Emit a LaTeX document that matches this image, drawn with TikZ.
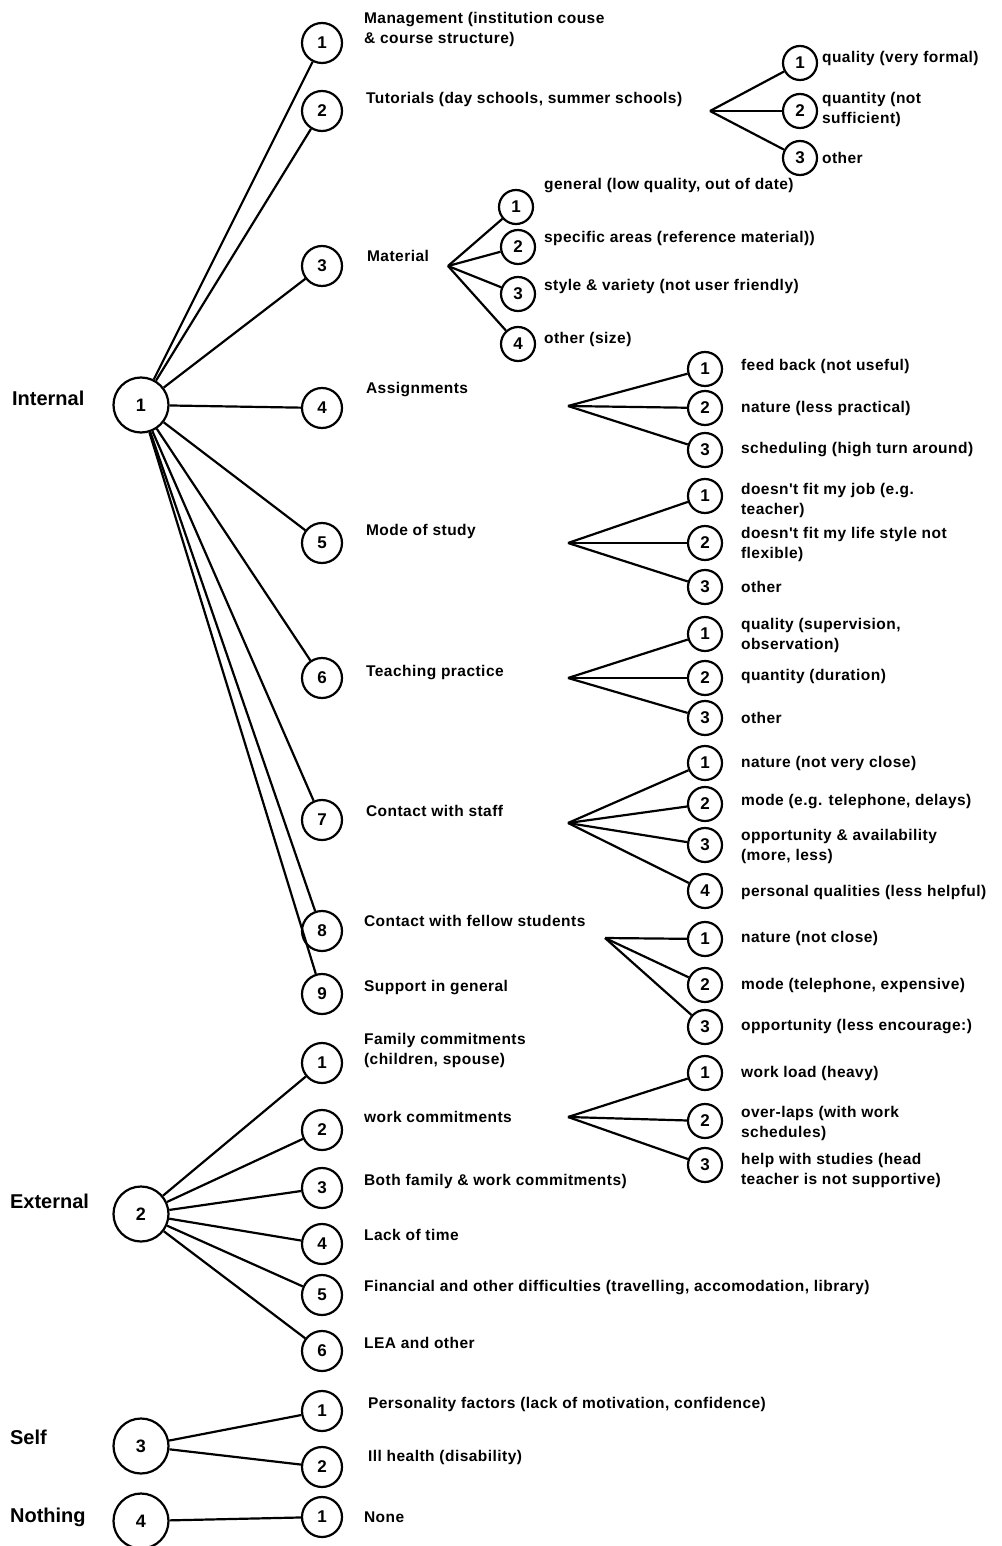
\documentclass[tikz,border=0pt]{standalone}
\usepackage{fontspec}
\setmainfont{Liberation Sans}
\newfontfamily\lblfont{Liberation Sans}[LetterSpace=3]
\begin{document}
\begin{tikzpicture}[x=1pt,y=-1pt,line width=2.2pt,
  big/.style={draw,circle,minimum size=55pt,inner sep=0pt,font=\fontsize{18}{20}\selectfont\bfseries},
  mid/.style={draw,circle,minimum size=40pt,inner sep=0pt,font=\fontsize{17}{18}\selectfont\bfseries},
  sml/.style={draw,circle,minimum size=34pt,inner sep=0pt,font=\fontsize{17}{18}\selectfont\bfseries},
  lbl/.style={anchor=west,inner sep=0pt,align=left,font=\lblfont\fontsize{15.5}{20}\selectfont\bfseries},
  cat/.style={anchor=west,inner sep=0pt,font=\fontsize{20}{22}\selectfont\bfseries}]
\useasboundingbox (0,0) rectangle (1001,1546);

% categories
\node[cat] (tInt) at (11,398) {Internal};
\node[cat] (tExt) at (9,1201) {External};
\node[cat] (tSelf) at (9,1437) {Self};
\node[cat] (tNot) at (9,1517) {Nothing};

\node[big] (I) at (141,405) {1};
\node[big] (E) at (141,1214) {2};
\node[big] (S) at (141,1446) {3};
\node[big] (N) at (141,1521) {4};

% internal children
\node[mid] (i1) at (322,43) {1};
\node[mid] (i2) at (322,111) {2};
\node[mid] (i3) at (322,266) {3};
\node[mid] (i4) at (322,408) {4};
\node[mid] (i5) at (322,543) {5};
\node[mid] (i6) at (322,678) {6};
\node[mid] (i7) at (322,820) {7};
\node[mid] (i8) at (322,931) {8};
\node[mid] (i9) at (322,994) {9};
\foreach \k in {1,...,9} \draw (I) -- (i\k);

\node[lbl] (li1) at (363,29) {Management (institution couse\\\& course structure)};
\node[lbl] (li2) at (365,99) {Tutorials (day schools, summer schools)};
\node[lbl] (li3) at (366,256) {Material};
\node[lbl] (li4) at (365,390) {Assignments};
\node[lbl] (li5) at (365,531) {Mode of study};
\node[lbl] (li6) at (365,673) {Teaching practice};
\node[lbl] (li7) at (365,811) {Contact with staff};
\node[lbl] (li8) at (363,921) {Contact with fellow students};
\node[lbl] (li9) at (363,988) {Support in general};

% tutorials fork
\coordinate (f2) at (710,111);
\node[sml] (t1) at (800,63) {1};
\node[sml] (t2) at (800,111) {2};
\node[sml] (t3) at (800,158) {3};
\foreach \k in {1,2,3} \draw (f2) -- (t\k);
\node[lbl] (lt1) at (821,58) {quality (very formal)};
\node[lbl] (lt2) at (821,109) {quantity (not\\sufficient)};
\node[lbl] (lt3) at (821,158) {other};

% material fork
\coordinate (f3) at (448,266);
\node[sml] (m1) at (516,207) {1};
\node[sml] (m2) at (518,247) {2};
\node[sml] (m3) at (518,294) {3};
\node[sml] (m4) at (518,344) {4};
\foreach \k in {1,...,4} \draw (f3) -- (m\k);
\node[lbl] (lm1) at (543,186) {general (low quality, out of date)};
\node[lbl] (lm2) at (543,238) {specific areas (reference material))};
\node[lbl] (lm3) at (543,286) {style \& variety (not user friendly)};
\node[lbl] (lm4) at (543,339) {other (size)};

% assignments fork
\coordinate (f4) at (568,406);
\node[sml] (a1) at (705,369) {1};
\node[sml] (a2) at (705,408) {2};
\node[sml] (a3) at (705,450) {3};
\foreach \k in {1,2,3} \draw (f4) -- (a\k);
\node[lbl] (la1) at (740,366) {feed back (not useful)};
\node[lbl] (la2) at (740,408) {nature (less practical)};
\node[lbl] (la3) at (740,450) {scheduling (high turn around)};

% mode fork
\coordinate (f5) at (568,543);
\node[sml] (o1) at (705,496) {1};
\node[sml] (o2) at (705,543) {2};
\node[sml] (o3) at (705,587) {3};
\foreach \k in {1,2,3} \draw (f5) -- (o\k);
\node[lbl] (lo1) at (740,500) {doesn't fit my job (e.g.\\teacher)};
\node[lbl] (lo2) at (740,544) {doesn't fit my life style not\\flexible)};
\node[lbl] (lo3) at (740,587) {other};

% teaching fork
\coordinate (f6) at (568,678);
\node[sml] (p1) at (705,634) {1};
\node[sml] (p2) at (705,678) {2};
\node[sml] (p3) at (705,718) {3};
\foreach \k in {1,2,3} \draw (f6) -- (p\k);
\node[lbl] (lp1) at (740,635) {quality (supervision,\\observation)};
\node[lbl] (lp2) at (740,676) {quantity (duration)};
\node[lbl] (lp3) at (740,718) {other};

% contact staff fork
\coordinate (f7) at (568,823);
\node[sml] (c1) at (705,763) {1};
\node[sml] (c2) at (705,804) {2};
\node[sml] (c3) at (705,845) {3};
\node[sml] (c4) at (705,891) {4};
\foreach \k in {1,...,4} \draw (f7) -- (c\k);
\node[lbl] (lc1) at (740,763) {nature (not very close)};
\node[lbl] (lc2) at (740,802) {mode (e.g. telephone, delays)};
\node[lbl] (lc3) at (740,846) {opportunity \& availability\\(more, less)};
\node[lbl] (lc4) at (740,892) {personal qualities (less helpful)};

% contact fellow students fork
\coordinate (f8) at (605,938);
\node[sml] (s1) at (705,939) {1};
\node[sml] (s2) at (705,985) {2};
\node[sml] (s3) at (705,1027) {3};
\foreach \k in {1,2,3} \draw (f8) -- (s\k);
\node[lbl] (ls1) at (740,938) {nature (not close)};
\node[lbl] (ls2) at (740,985) {mode (telephone, expensive)};
\node[lbl] (ls3) at (740,1027) {opportunity (less encourage:)};

% external children
\node[mid] (e1) at (322,1063) {1};
\node[mid] (e2) at (322,1130) {2};
\node[mid] (e3) at (322,1188) {3};
\node[mid] (e4) at (322,1244) {4};
\node[mid] (e5) at (322,1295) {5};
\node[mid] (e6) at (322,1351) {6};
\foreach \k in {1,...,6} \draw (E) -- (e\k);
\node[lbl] (le1) at (363,1050) {Family commitments\\(children, spouse)};
\node[lbl] (le2) at (363,1117) {work commitments};
\node[lbl] (le3) at (363,1181) {Both family \& work commitments)};
\node[lbl] (le4) at (363,1235) {Lack of time};
\node[lbl] (le5) at (363,1288) {Financial and other difficulties (travelling, accomodation, library)};
\node[lbl] (le6) at (363,1343) {LEA and other};

% work fork
\coordinate (fw) at (568,1117);
\node[sml] (w1) at (705,1073) {1};
\node[sml] (w2) at (705,1121) {2};
\node[sml] (w3) at (705,1165) {3};
\foreach \k in {1,2,3} \draw (fw) -- (w\k);
\node[lbl] (lw1) at (740,1073) {work load (heavy)};
\node[lbl] (lw2) at (740,1123) {over-laps (with work\\schedules)};
\node[lbl] (lw3) at (740,1170) {help with studies (head\\teacher is not supportive)};

% self
\node[mid] (x1) at (322,1411) {1};
\node[mid] (x2) at (322,1467) {2};
\draw (S) -- (x1);
\draw (S) -- (x2);
\node[lbl] (lx1) at (367,1404) {Personality factors (lack of motivation, confidence)};
\node[lbl] (lx2) at (367,1457) {Ill health (disability)};

% nothing
\node[mid] (n1) at (322,1517) {1};
\draw (N) -- (n1);
\node[lbl] (ln1) at (363,1517) {None};
\end{tikzpicture}
\end{document}
